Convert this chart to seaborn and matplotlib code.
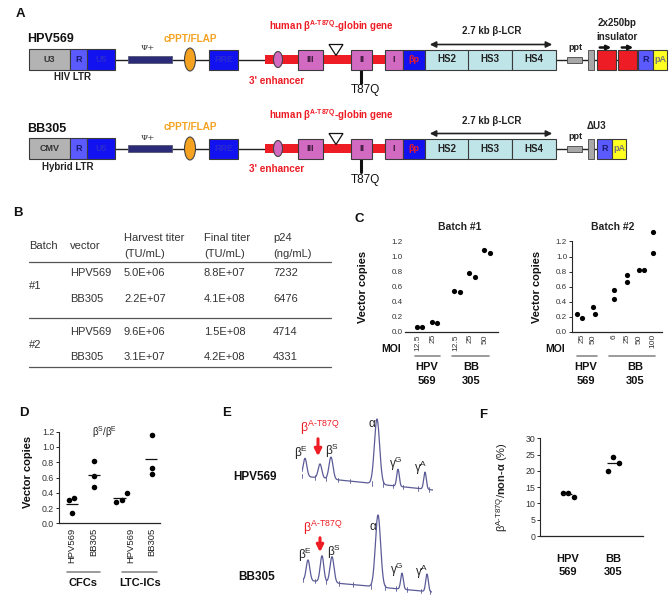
import numpy as np
import pandas as pd
import matplotlib
matplotlib.use('Agg')
import matplotlib.pyplot as plt
from matplotlib.patches import Rectangle, Ellipse, Polygon
import seaborn as sns

# ---- panel B: titer table
table_batch = ['#1', '#2']
table_vector = ['HPV569', 'BB305', 'HPV569', 'BB305']
harvest_titer = ['5.0E+06', '2.2E+07', '9.6E+06', '3.1E+07']
final_titer = ['8.8E+07', '4.1E+08', '1.5E+08', '4.2E+08']
p24 = ['7232', '6476', '4714', '4331']

# ---- panel C: vector copies vs MOI (two replicates each)
batch1_moi = ['12.5', '25', '12.5', '25', '50']
batch1_rep1 = [0.06, 0.13, 0.54, 0.78, 1.08]
batch1_rep2 = [0.06, 0.12, 0.53, 0.73, 1.04]
batch2_moi = ['25', '50', '6', '25', '50', '100']
batch2_rep1 = [0.24, 0.33, 0.55, 0.76, 0.82, 1.32]
batch2_rep2 = [0.19, 0.24, 0.44, 0.66, 0.82, 1.05]

# ---- panel D: vector copies in CFCs / LTC-ICs
d_cells = ['CFCs', 'CFCs', 'LTC-ICs', 'LTC-ICs']
d_vector = ['HPV569', 'BB305', 'HPV569', 'BB305']
d_copies = [[0.30, 0.33, 0.13], [0.82, 0.62, 0.47], [0.275, 0.305, 0.40], [1.16, 0.72, 0.65]]

# ---- panel E: HPLC peaks (retention, height, width)
peak_names = ['βE', 'βA-T87Q', 'βS', 'α', 'γG', 'γA']
hpv_rt = [3, 18, 29, 75, 96, 123]
hpv_height = [18, 14, 22, 65, 17, 17]
bb_rt = [5, 19, 29, 75, 99, 124]
bb_height = [20.5, 26, 26, 72, 16, 17.5]
peak_sd = [1.8, 1.8, 2.0, 2.6, 1.3, 1.3]
hpv_marks = [0, 13, 24, 36, 48, 70, 81, 91, 101, 116, 127]
bb_marks = [0, 12, 23, 36, 50, 68, 82, 93, 104, 118, 127]

# ---- panel F: beta-A-T87Q / non-alpha (%)
f_vector = ['HPV\n569', 'BB\n305']
f_values = [[13.3, 13.3, 12.1], [20.1, 24.4, 22.3]]

W, H = 670, 596
sns.set_style('ticks')
plt.rcParams['font.family'] = ['Liberation Sans', 'DejaVu Sans']
plt.rcParams['mathtext.fontset'] = 'custom'
plt.rcParams['mathtext.rm'] = 'Liberation Sans'
plt.rcParams['mathtext.bf'] = 'Liberation Sans:bold'
plt.rcParams['mathtext.it'] = 'Liberation Sans:italic'
plt.rcParams['mathtext.default'] = 'regular'

fig = plt.figure(figsize=(W / 100, H / 100), dpi=100)
ax0 = fig.add_axes([0, 0, 1, 1])
ax0.set_xlim(0, W)
ax0.set_ylim(H, 0)
ax0.axis('off')


def pbox(x0, y0, x1, y1):
    return [x0 / W, 1 - y1 / H, (x1 - x0) / W, (y1 - y0) / H]


def txt(x, y, s, fs=7, bold=False, color='#222222', **kw):
    ax0.text(x, y, s, fontsize=fs, weight='bold' if bold else 'normal', color=color,
             ha=kw.pop('ha', 'center'), va=kw.pop('va', 'center'), **kw)


def rbox(x0, x1, yc, h, fc, label='', tc='#222222', fs=6.5, ec='#3a3a3a'):
    ax0.add_patch(Rectangle((x0, yc - h / 2), x1 - x0, h, fc=fc, ec=ec, lw=0.8, zorder=3))
    if label:
        ax0.text((x0 + x1) / 2, yc, label, ha='center', va='center', fontsize=fs,
                 weight='bold', color=tc, zorder=4)


RED = '#ee1c24'
ORANGE = '#f4a21f'
PINK = '#d36ac2'
BLUE = '#1212f0'
LBLUE = '#5a5aff'
CYAN = '#bfe5e8'
GREY = '#b3b3b3'

# ---------------- panel A
for letter, x, y in [('A', 20, 14), ('B', 18, 213), ('C', 359, 219), ('D', 24, 413),
                     ('E', 227, 413), ('F', 483, 415)]:
    txt(x, y, letter, fs=9.5, bold=True, color='#111111')


def vector(yc, name, ltr, ltr_name, hybrid):
    txt(27, yc - 20, name, fs=9, bold=True, color='#111111', ha='left')
    ax0.plot([115, 265], [yc, yc], color='#222222', lw=1, zorder=1)
    ax0.plot([555, 597], [yc, yc], color='#222222', lw=1, zorder=1)
    rbox(29, 70, yc, 21, GREY, ltr, tc='#333333')
    rbox(70, 87, yc, 21, LBLUE, 'R', tc='#1a1a70')
    rbox(87, 115, yc, 21, BLUE, 'U5', tc='#2a2ad0')
    txt(72 if not hybrid else 68, yc + 18, ltr_name, fs=7, bold=True, color='#222222')
    ax0.add_patch(Rectangle((128, yc - 3.5), 44, 7, fc='#2b2b78', ec='#555577', lw=0.6, zorder=3))
    txt(148, yc - 11, 'Ψ+', fs=6, color='#333333', family=['DejaVu Serif'])
    ax0.add_patch(Ellipse((190, yc), 11, 23, fc=ORANGE, ec='#444444', lw=0.8, zorder=3))
    txt(190, yc - 21, 'cPPT/FLAP', fs=7.2, bold=True, color=ORANGE)
    rbox(209, 238, yc, 20, BLUE, 'RRE', tc='#2a2ad0')
    ax0.add_patch(Rectangle((265, yc - 4.5), 120, 9, fc=RED, ec='none', zorder=2))
    ax0.add_patch(Ellipse((278, yc), 9, 16, fc=PINK, ec='#444444', lw=0.8, zorder=3))
    txt(277, yc + 21, "3' enhancer", fs=7.2, bold=True, color=RED)
    rbox(298, 323, yc, 20, PINK, 'III', tc='#3a1a3a')
    rbox(351, 372, yc, 20, PINK, 'II', tc='#3a1a3a')
    rbox(385, 403, yc, 20, PINK, 'I', tc='#3a1a3a')
    rbox(403, 425, yc, 20, BLUE, 'βp', tc=RED)
    for x0, lab in [(425, 'HS2'), (468, 'HS3'), (512, 'HS4')]:
        rbox(x0, x0 + 43.5, yc, 20, CYAN, lab, tc='#222222', fs=7)
    ax0.add_patch(Polygon([(329, yc - 15), (343, yc - 15), (336, yc - 4)], closed=True,
                          fc='white', ec='#111111', lw=0.9, zorder=4))
    txt(331, yc - 33, 'human $β^{A‐T87Q}$-globin gene', fs=7, bold=True, color=RED)
    ax0.plot([361, 361], [yc + 10, yc + 23], color='#111111', lw=2.2, zorder=2)
    txt(365, yc + 31, 'T87Q', fs=8.5, color='#111111')
    ax0.annotate('', xy=(555, yc - 15), xytext=(427, yc - 15),
                 arrowprops=dict(arrowstyle='<|-|>', color='#222222', lw=1.2, mutation_scale=9))
    txt(492, yc - 28, '2.7 kb β-LCR', fs=7, bold=True, color='#222222')
    ax0.add_patch(Rectangle((567, yc - 3), 15, 6, fc='#a8a8a8', ec='#444444', lw=0.6, zorder=3))
    txt(575, yc - 12, 'ppt', fs=6.5, bold=True, color='#222222')
    ax0.add_patch(Rectangle((588, yc - 10), 6, 20, fc='#a8a8a8', ec='#444444', lw=0.6, zorder=3))


vector(59.5, 'HPV569', 'U3', 'HIV LTR', False)
vector(148.5, 'BB305', 'CMV', 'Hybrid LTR', True)

# 3' LTRs
yc = 59.5
rbox(597, 616, yc, 20, RED)
rbox(618, 637, yc, 20, RED)
ax0.plot([616, 618], [yc, yc], color='#222222', lw=1, zorder=1)
rbox(638, 653, yc, 20, LBLUE, 'R', tc='#1a1a70')
rbox(653, 667, yc, 20, '#ffff22', 'pA', tc='#777777', fs=6.5)
for x0 in (597, 619):
    ax0.annotate('', xy=(x0 + 17, yc - 12), xytext=(x0, yc - 12),
                 arrowprops=dict(arrowstyle='-|>', color='#111111', lw=1.8, mutation_scale=6))
txt(617, 23, '2x250bp', fs=7, bold=True, color='#222222')
txt(617, 37, 'insulator', fs=7, bold=True, color='#222222')
yc = 148.5
rbox(597, 612, yc, 20, LBLUE, 'R', tc='#1a1a70')
rbox(612, 626, yc, 20, '#ffff22', 'pA', tc='#777777', fs=6.5)
txt(596, 126, 'ΔU3', fs=7, bold=True, color='#222222')

# ---------------- panel B table
col_x = [29, 70, 124, 204, 273]
txt(col_x[0], 246, 'Batch', fs=8, color='#333333', ha='left')
txt(col_x[1], 246, 'vector', fs=8, color='#333333', ha='left')
for cx, l1, l2 in [(col_x[2], 'Harvest titer', '(TU/mL)'), (col_x[3], 'Final titer', '(TU/mL)'),
                   (col_x[4], 'p24', '(ng/mL)')]:
    txt(cx, 238, l1, fs=8, color='#333333', ha='left')
    txt(cx, 254, l2, fs=8, color='#333333', ha='left')
for yl in (262, 318, 367):
    ax0.plot([29, 331], [yl, yl], color='#555555', lw=0.9)
row_y = [273, 299, 332, 357]
for i, ry in enumerate(row_y):
    for cx, val in zip(col_x[1:], [table_vector[i], harvest_titer[i], final_titer[i], p24[i]]):
        txt(cx, ry, val, fs=8, color='#333333', ha='left')
for b, by in zip(table_batch, [286, 345]):
    txt(col_x[0], by, b, fs=8, color='#333333', ha='left')

# ---------------- panel C
PXU_C = 75.5


def copies_frame(pos, moi, reps, dxs):
    rows = []
    for i, p in enumerate(pos):
        for vals, dx in zip(reps, dxs):
            rows.append(dict(x=p + dx[i], copies=vals[i], moi=moi[i]))
    return pd.DataFrame(rows)


def style_small(ax, ylab_x, ylab_y, ticklen):
    ax.set_facecolor('none')
    sns.despine(ax=ax)
    ax.set_ylabel('Vector copies', fontsize=8, weight='bold', color='#111111')
    ax.yaxis.set_label_coords(ylab_x, ylab_y)
    ax.set_xlabel('')
    ax.tick_params(axis='x', length=0, pad=1.5, labelsize=6, labelcolor='#333333', rotation=90)
    ax.tick_params(axis='y', length=ticklen, width=0.7, pad=1.5, labelsize=5.8, labelcolor='#333333')
    ax.set_yticks(np.arange(0, 1.21, 0.2))
    ax.set_yticklabels([f'{v:.1f}' for v in np.arange(0, 1.21, 0.2)])
    ax.set_ylim(0, 1.35)
    ax.spines['bottom'].set_linewidth(0.9)
    ax.spines['left'].set_linewidth(0.8)
    ax.spines['left'].set_bounds(0, 1.2)


b1_pos = [0, 1, 2.5, 3.5, 4.5]
b1_dx = [[-0.07] * 5, [0.27] * 5]
ax1 = fig.add_axes(pbox(405, 332 - 1.35 * PXU_C, 498, 332))
df1 = copies_frame(b1_pos, batch1_moi, [batch1_rep1, batch1_rep2], b1_dx)
sns.scatterplot(data=df1, x='x', y='copies', ax=ax1, color='black', s=14, linewidth=0,
                legend=False, clip_on=False)
ax1.set_xlim((405 - 418) / 15, (498 - 418) / 15)
style_small(ax1, (368 - 405) / 93, 0.44, 0)
ax1.spines['left'].set_visible(False)
ax1.set_xticks(b1_pos)
ax1.set_xticklabels(batch1_moi, va='top')

b2_pos = [0, 0.95, 2.7, 3.75, 4.75, 5.9]
b2_dx = [[-0.42, 0, 0, 0, 0, 0], [0, 0.15, 0, 0, 0.42, 0]]
ax2 = fig.add_axes(pbox(572, 332 - 1.35 * PXU_C, 662, 332))
df2 = copies_frame(b2_pos, batch2_moi, [batch2_rep1, batch2_rep2], b2_dx)
sns.scatterplot(data=df2, x='x', y='copies', ax=ax2, color='black', s=14, linewidth=0,
                legend=False, clip_on=False)
ax2.set_xlim((572 - 582) / 12, (662 - 582) / 12)
style_small(ax2, (542 - 572) / 90, 0.44, 2)
ax2.set_xticks(b2_pos)
ax2.set_xticklabels(batch2_moi, va='top')

txt(460, 227, 'Batch #1', fs=7.5, bold=True, color='#222222')
txt(613, 227, 'Batch #2', fs=7.5, bold=True, color='#222222')
for mx in (391, 555):
    txt(mx, 349, 'MOI', fs=7.5, bold=True, color='#111111')
for x0, x1, lx, l1, l2 in [(415, 440, 427, 'HPV', '569'), (452, 489, 471, 'BB', '305'),
                           (577, 597, 586, 'HPV', '569'), (609, 655, 635, 'BB', '305')]:
    ax0.plot([x0, x1], [356, 356], color='#8a8a8a', lw=1.2)
    txt(lx, 367, l1, fs=8, bold=True, color='#111111')
    txt(lx, 381, l2, fs=8, bold=True, color='#111111')

# ---------------- panel D
PXU_D = 22
d_pos = [0, 1, 2.68, 3.64]
d_dx = [[-0.14, 0.09, 0], [0, 0, 0], [-0.68, -0.41, -0.18], [0, 0, 0]]
d_mean_dx = [0, 0, -0.52, -0.05]
rows = []
for i, p in enumerate(d_pos):
    for v, dx in zip(d_copies[i], d_dx[i]):
        rows.append(dict(x=p + dx, copies=v, cells=d_cells[i], vector=d_vector[i], grp=i))
dfd = pd.DataFrame(rows)
axd = fig.add_axes(pbox(59, 523.3 - 1.2 * 76.3, 160, 523.3))
sns.scatterplot(data=dfd, x='x', y='copies', ax=axd, color='black', s=16, linewidth=0,
                legend=False, clip_on=False)
d_means = dfd.groupby('grp')['copies'].mean()
for i, p in enumerate(d_pos):
    c = p + d_mean_dx[i]
    axd.hlines(d_means[i], c - 0.28, c + 0.28, color='#111111', lw=0.9)
axd.set_xlim((59 - 72) / PXU_D, (160 - 72) / PXU_D)
axd.set_facecolor('none')
sns.despine(ax=axd)
axd.set_ylim(0, 1.2)
axd.set_yticks(np.arange(0, 1.21, 0.2))
axd.set_yticklabels([f'{v:.1f}' for v in np.arange(0, 1.21, 0.2)])
axd.set_xticks(d_pos)
axd.set_xticklabels(d_vector, rotation=90, va='top')
axd.tick_params(axis='x', length=0, pad=3.5, labelsize=6.8, labelcolor='#222222')
axd.tick_params(axis='y', length=2, width=0.7, pad=1.5, labelsize=6.3, labelcolor='#333333')
axd.spines['bottom'].set_linewidth(0.9)
axd.spines['left'].set_linewidth(0.8)
axd.set_xlabel('')
axd.set_ylabel('Vector copies', fontsize=8, weight='bold', color='#111111')
axd.yaxis.set_label_coords((33 - 59) / 101, 0.56)
txt(105, 432, '$β^S$/$β^E$', fs=7, color='#222222')
for x0, x1, lx, lab in [(67, 100, 83, 'CFCs'), (122, 157, 140, 'LTC-ICs')]:
    ax0.plot([x0, x1], [572, 572], color='#8a8a8a', lw=1.2)
    txt(lx, 583, lab, fs=8, bold=True, color='#111111')

# ---------------- panel E
TRACE = '#5b5b98'


def trace(box, rts, heights, drift, span, ylim, marks):
    ax = fig.add_axes(box)
    t = np.linspace(0, span, 900)
    sig = drift * t / span
    for c, h, sd in zip(rts, heights, peak_sd):
        sig = sig + h * np.exp(-(t - c) ** 2 / (2 * sd ** 2))
    sns.lineplot(x=t, y=sig, ax=ax, color=TRACE, lw=0.9)
    for m in marks:
        b = drift * m / span
        ax.plot([m, m], [b - 2.2, b + 2.2], color=TRACE, lw=0.6)
    ax.set_xlim(0, span)
    ax.set_ylim(*ylim)
    ax.axis('off')
    return ax


trace(pbox(302, 412, 433, 496), hpv_rt, hpv_height, -14, 131, (-20, 64), hpv_marks)
trace(pbox(303, 508, 432, 596), bb_rt, bb_height, -12, 129, (-16, 72), bb_marks)
txt(255, 477, 'HPV569', fs=8.5, bold=True, color='#111111')
txt(257, 577, 'BB305', fs=8.5, bold=True, color='#111111')
for lab, (x, y1, y2) in [('$β^E$', (301, 453, 555)), ('$β^S$', (332, 451, 552)),
                         ('α', (372, 424, 527)), ('$γ^G$', (396, 464, 570)),
                         ('$γ^A$', (421, 468, 572))]:
    txt(x, y1, lab, fs=8.5, color='#222222')
    txt(x + (4 if lab == '$β^E$' else 2 if 'β' in lab else 1), y2, lab, fs=8.5, color='#222222')
for lx, ly, ax_x, a0, a1 in [(320, 428, 318, 436, 459), (323, 528, 320, 535, 555)]:
    txt(lx, ly, '$β^{A‐T87Q}$', fs=9, color=RED)
    ax0.annotate('', xy=(ax_x, a1), xytext=(ax_x, a0),
                 arrowprops=dict(arrowstyle='-|>', color=RED, lw=2.2, mutation_scale=10))

# ---------------- panel F
f_pos = [0, 1]
f_dx = [-0.11, 0, 0.13]
rows = []
for i, p in enumerate(f_pos):
    for v, dx in zip(f_values[i], f_dx):
        rows.append(dict(x=p + dx, pct=v, grp=i))
dff = pd.DataFrame(rows)
axf = fig.add_axes(pbox(540, 536 - 30 * 3.257, 643, 536))
sns.scatterplot(data=dff, x='x', y='pct', ax=axf, color='black', s=16, linewidth=0,
                legend=False, clip_on=False)
f_means = dff.groupby('grp')['pct'].mean()
for i, p in enumerate(f_pos):
    axf.hlines(f_means[i], p - 0.13, p + 0.09, color='#111111', lw=0.9)
axf.set_xlim((540 - 568) / 45, (643 - 568) / 45)
axf.set_ylim(0, 30)
axf.set_facecolor('none')
sns.despine(ax=axf)
axf.set_yticks(range(0, 31, 5))
axf.set_xticks(f_pos)
axf.set_xticklabels(f_vector, fontsize=8, weight='bold', color='#111111', linespacing=1.35)
axf.tick_params(axis='x', length=0, pad=13)
axf.tick_params(axis='y', length=2, width=0.7, pad=1.5, labelsize=6.3, labelcolor='#333333')
axf.spines['bottom'].set_linewidth(0.9)
axf.spines['left'].set_linewidth(0.8)
axf.set_xlabel('')
axf.set_ylabel('$β^{A‐T87Q}$/$\\mathbf{non‐α}$ (%)', fontsize=8, color='#222222')
axf.yaxis.set_label_coords((510 - 540) / 103, 0.5)

fig.savefig('out.png', dpi=100)
